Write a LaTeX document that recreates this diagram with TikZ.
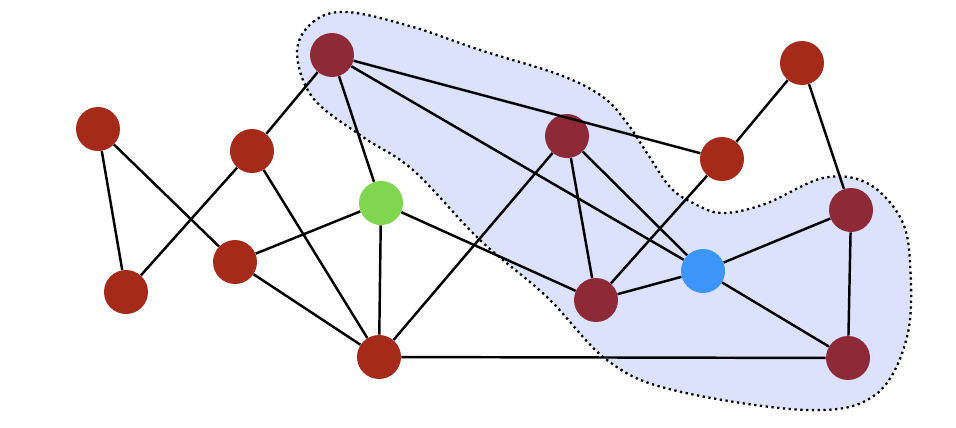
\documentclass[tikz,border=0pt]{standalone}
\usepackage{tikz}
\usetikzlibrary{positioning}
\definecolor{vertexRed}{HTML}{A52A1A}
\definecolor{clusterRed}{HTML}{8E2A38}
\definecolor{seedGreen}{HTML}{80D651}
\definecolor{probeBlue}{HTML}{3D94F9}
\definecolor{regionFill}{HTML}{DCE1FC}

\begin{document}
\begin{tikzpicture}[
    x=0.02cm, y=-0.02cm,
    vertex/.style = {circle, fill=vertexRed, minimum size=0.88cm, inner sep=0pt},
    member/.style = {vertex, fill=clusterRed},
    edge/.style = {line width=1.4pt, color=black}
]
    \useasboundingbox (0,0) rectangle (956,427);

    % Community region
    \draw [fill=regionFill, dotted, line width=1.3pt]
        plot [smooth cycle, tension=0.6] coordinates {
            (297,52) (313,22) (347,12) (413,27) (480,50) (560,75) (603,97)
            (627,123) (647,153) (670,187) (693,203) (722,213) (765,204)
            (823,178) (867,183) (900,217) (910,262) (907,337) (875,395)
            (807,410) (673,390) (607,360) (547,297) (480,240) (413,170)
            (363,137) (313,98)
        };

    % Vertices
    \node [vertex] (a) at (98,129) {};
    \node [vertex] (b) at (126,292) {};
    \node [vertex] (c) at (252,151) {};
    \node [vertex] (d) at (235,262) {};
    \node [member] (e) at (332,55) {};
    \node [vertex, fill=seedGreen] (f) at (381,203) {};
    \node [vertex] (g) at (379,357) {};
    \node [member] (h) at (567,136) {};
    \node [vertex] (i) at (722,159) {};
    \node [vertex] (j) at (802,63) {};
    \node [member] (k) at (851,210) {};
    \node [vertex, fill=probeBlue] (l) at (703,271) {};
    \node [member] (m) at (596,300) {};
    \node [member] (n) at (848,358) {};

    % Edges
    \draw [edge] (a) -- (b);
    \draw [edge] (a) -- (d);
    \draw [edge] (b) -- (c);
    \draw [edge] (c) -- (e);
    \draw [edge] (c) -- (g);
    \draw [edge] (d) -- (f);
    \draw [edge] (d) -- (g);
    \draw [edge] (e) -- (f);
    \draw [edge] (e) -- (i);
    \draw [edge] (e) -- (l);
    \draw [edge] (f) -- (g);
    \draw [edge] (f) -- (m);
    \draw [edge] (g) -- (h);
    \draw [edge] (g) -- (n);
    \draw [edge] (h) -- (m);
    \draw [edge] (h) -- (l);
    \draw [edge] (m) -- (l);
    \draw [edge] (m) -- (i);
    \draw [edge] (i) -- (j);
    \draw [edge] (j) -- (k);
    \draw [edge] (k) -- (l);
    \draw [edge] (k) -- (n);
    \draw [edge] (l) -- (n);
\end{tikzpicture}
\end{document}
